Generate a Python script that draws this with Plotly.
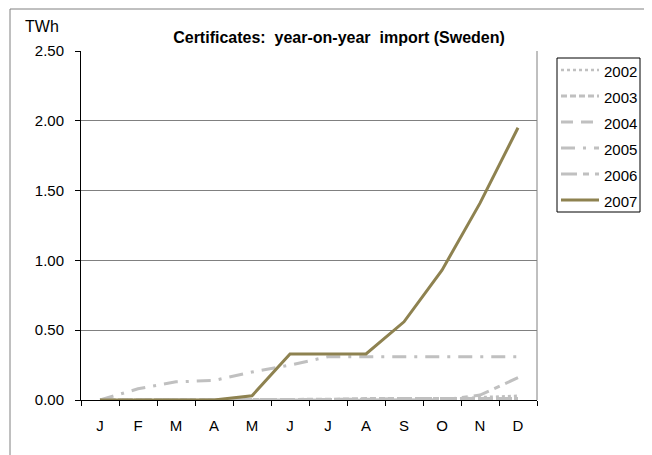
import plotly.graph_objects as go

months = ["J", "F", "M", "A", "M", "J", "J", "A", "S", "O", "N", "D"]
x_pos = list(range(1, 13))

y2002 = [0, 0, 0, 0, 0, 0, 0, 0, 0, 0, 0.02, 0.03]
y2003 = [0, 0, 0, 0, 0, 0.005, 0.005, 0.01, 0.01, 0.01, 0.01, 0.01]
y2004 = [0, 0, 0, 0, 0, 0, 0, 0.005, 0.01, 0.01, 0.01, 0.01]
y2005 = [0, 0.08, 0.13, 0.14, 0.20, 0.25, 0.31, 0.31, 0.31, 0.31, 0.31, 0.31]
y2006 = [0, 0, 0, 0, 0, 0, 0, 0, 0, 0, 0.035, 0.16]
y2007 = [0, 0, 0, 0, 0.03, 0.33, 0.33, 0.33, 0.56, 0.93, 1.41, 1.95]

series = [
    ("2002", y2002, "#C0C0C0", "dot", 2.5),
    ("2003", y2003, "#C0C0C0", "6px,3px", 3),
    ("2004", y2004, "#C0C0C0", "12px,8px", 3),
    ("2005", y2005, "#C0C0C0", "14px,8px,3px,8px", 3),
    ("2006", y2006, "#C0C0C0", "16px,6px,6px,6px", 3),
    ("2007", y2007, "#8E8250", "solid", 3),
]

y_ticks = [0, 0.5, 1.0, 1.5, 2.0, 2.5]
y_ticktext = ["0.00", "0.50", "1.00", "1.50", "2.00", "2.50"]

FONT = "Liberation Sans, Arial, sans-serif"

fig = go.Figure()
for name, ys, color, dash, w in series:
    fig.add_trace(go.Scatter(
        x=x_pos, y=ys, mode="lines",
        name="<span style='font-size:15px'>" + name + "</span>",
        line=dict(color=color, dash=dash, width=w),
    ))

# page body has an 8px margin, so layout coords = screen coords - 8
OFF = 8
W, H = 644, 447
L, R, T, B = 73, 115, 43, 55
pw, ph = W - L - R, H - T - B

def px_x(p):
    return (p - OFF - L) / pw

def px_y(p):
    return (H - B - (p - OFF)) / ph

fig.update_layout(
    width=W, height=H,
    margin=dict(l=L, r=R, t=T, b=B, autoexpand=False),
    paper_bgcolor="white", plot_bgcolor="white",
    font=dict(family=FONT, size=15, color="black"),
    title=dict(text="<b>Certificates:  year-on-year  import (Sweden)</b>",
               x=(339 - OFF) / W, xanchor="center", y=1 - (37 - OFF) / H, yanchor="middle",
               font=dict(size=16)),
    showlegend=True,
    legend=dict(x=px_x(556), y=px_y(52), xanchor="left", yanchor="top",
                borderwidth=0, bgcolor="rgba(0,0,0,0)", itemwidth=38,
                font=dict(size=17.7), tracegroupgap=0),
    xaxis=dict(range=[0.5, 12.5], tickmode="array", tickvals=x_pos, ticktext=months,
               ticks="", showgrid=False, showline=True, linecolor="black", linewidth=1,
               zeroline=False, fixedrange=True, ticklabelstandoff=12,
               minor=dict(tickmode="array", tickvals=[i + 0.5 for i in range(0, 13)],
                          ticks="outside", ticklen=5, tickcolor="black", showgrid=False),
               tickfont=dict(size=15)),
    yaxis=dict(range=[0, 2.5], tickmode="array", tickvals=y_ticks, ticktext=y_ticktext,
               ticks="outside", ticklen=5, tickcolor="black", showline=True,
               linecolor="black", linewidth=1, showgrid=True, gridcolor="#808080",
               gridwidth=1, zeroline=False, tickfont=dict(size=15), fixedrange=True,
               ticklabelstandoff=8),
    shapes=[
        dict(type="line", xref="paper", yref="paper", x0=1, x1=1, y0=0, y1=1,
             line=dict(color="#808080", width=1)),
        dict(type="line", xref="paper", yref="paper", x0=px_x(10), x1=px_x(10),
             y0=px_y(9), y1=px_y(470), line=dict(color="#808080", width=1)),
        dict(type="line", xref="paper", yref="paper", x0=px_x(10), x1=px_x(670),
             y0=px_y(9), y1=px_y(9), line=dict(color="#808080", width=1)),
        # legend frame
        dict(type="rect", xref="paper", yref="paper", x0=px_x(557), x1=px_x(640),
             y0=px_y(212), y1=px_y(58), line=dict(color="black", width=1),
             fillcolor="rgba(0,0,0,0)"),
    ],
    annotations=[
        dict(text="TWh", xref="paper", yref="paper", x=px_x(23), y=px_y(27),
             xanchor="left", yanchor="middle", showarrow=False, font=dict(size=16)),
    ],
)

fig.write_html("out.html")
